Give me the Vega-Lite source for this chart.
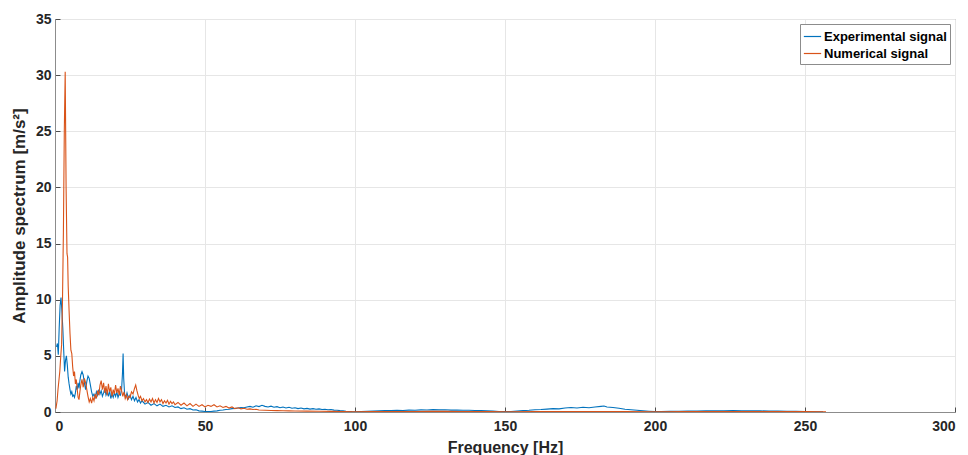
{
  "$schema": "https://vega.github.io/schema/vega-lite/v6.json",
  "autosize": {"type": "none"},
  "width": 900,
  "height": 393,
  "padding": {"left": 55, "top": 19, "right": 13, "bottom": 43},
  "background": "white",
  "config": {
    "font": "Liberation Sans",
    "view": {"stroke": "#8c8c8c", "strokeWidth": 1},
    "axis": {
      "labelFont": "Liberation Sans", "labelFontWeight": "bold", "labelFontSize": 14, "labelColor": "#262626",
      "titleFont": "Liberation Sans", "titleFontWeight": "bold", "titleFontSize": 16, "titleColor": "#262626",
      "gridColor": "#e6e6e6", "gridWidth": 1, "domainColor": "#8c8c8c", "tickColor": "#4d4d4d",
      "tickSize": -5
    }
  },
  "data": {"values": [
    {"f":0.5,"a":5.8,"s":"E"},{"f":0.8,"a":6.1,"s":"E"},{"f":1.1,"a":5.1,"s":"E"},{"f":1.4,"a":7.5,"s":"E"},{"f":1.7,"a":9.5,"s":"E"},{"f":2.0,"a":10.2,"s":"E"},{"f":2.3,"a":9.0,"s":"E"},{"f":2.6,"a":7.5,"s":"E"},{"f":2.9,"a":5.5,"s":"E"},{"f":3.2,"a":3.6,"s":"E"},{"f":3.5,"a":4.6,"s":"E"},{"f":3.8,"a":5.0,"s":"E"},{"f":4.1,"a":4.2,"s":"E"},{"f":4.4,"a":3.1,"s":"E"},{"f":4.7,"a":2.5,"s":"E"},{"f":5.0,"a":2.0,"s":"E"},{"f":5.3,"a":1.6,"s":"E"},{"f":5.6,"a":1.8,"s":"E"},{"f":5.9,"a":1.4,"s":"E"},{"f":6.2,"a":1.5,"s":"E"},{"f":6.5,"a":1.3,"s":"E"},{"f":6.8,"a":1.7,"s":"E"},{"f":7.1,"a":2.3,"s":"E"},{"f":7.4,"a":2.0,"s":"E"},{"f":7.7,"a":2.6,"s":"E"},{"f":8.0,"a":2.1,"s":"E"},{"f":8.3,"a":2.8,"s":"E"},{"f":8.6,"a":3.3,"s":"E"},{"f":9.0,"a":3.6,"s":"E"},{"f":9.4,"a":3.3,"s":"E"},{"f":9.8,"a":2.6,"s":"E"},{"f":10.2,"a":2.0,"s":"E"},{"f":10.6,"a":2.7,"s":"E"},{"f":11.0,"a":3.2,"s":"E"},{"f":11.4,"a":3.0,"s":"E"},{"f":11.8,"a":2.4,"s":"E"},{"f":12.2,"a":1.8,"s":"E"},{"f":12.6,"a":1.4,"s":"E"},{"f":13.0,"a":1.6,"s":"E"},{"f":13.4,"a":1.3,"s":"E"},{"f":13.8,"a":1.8,"s":"E"},{"f":14.2,"a":1.5,"s":"E"},{"f":14.6,"a":2.0,"s":"E"},{"f":15.0,"a":1.6,"s":"E"},{"f":15.4,"a":1.9,"s":"E"},{"f":15.8,"a":1.4,"s":"E"},{"f":16.2,"a":1.7,"s":"E"},{"f":16.6,"a":2.1,"s":"E"},{"f":17.0,"a":1.5,"s":"E"},{"f":17.4,"a":1.8,"s":"E"},{"f":17.8,"a":1.4,"s":"E"},{"f":18.2,"a":1.9,"s":"E"},{"f":18.6,"a":1.2,"s":"E"},{"f":19.0,"a":1.6,"s":"E"},{"f":19.4,"a":1.3,"s":"E"},{"f":19.8,"a":1.7,"s":"E"},{"f":20.2,"a":1.4,"s":"E"},{"f":20.6,"a":1.8,"s":"E"},{"f":21.0,"a":1.3,"s":"E"},{"f":21.4,"a":1.6,"s":"E"},{"f":21.8,"a":1.5,"s":"E"},{"f":22.2,"a":2.0,"s":"E"},{"f":22.5,"a":3.5,"s":"E"},{"f":22.7,"a":5.2,"s":"E"},{"f":22.9,"a":3.0,"s":"E"},{"f":23.2,"a":1.6,"s":"E"},{"f":23.6,"a":1.3,"s":"E"},{"f":24.0,"a":1.7,"s":"E"},{"f":24.5,"a":1.2,"s":"E"},{"f":25.0,"a":1.5,"s":"E"},{"f":25.5,"a":1.1,"s":"E"},{"f":26.0,"a":1.4,"s":"E"},{"f":26.5,"a":1.0,"s":"E"},{"f":27.0,"a":1.3,"s":"E"},{"f":27.5,"a":0.9,"s":"E"},{"f":28.0,"a":1.1,"s":"E"},{"f":28.5,"a":0.8,"s":"E"},{"f":29.0,"a":1.0,"s":"E"},{"f":30,"a":0.7,"s":"E"},{"f":31,"a":0.85,"s":"E"},{"f":32,"a":0.6,"s":"E"},{"f":33,"a":0.75,"s":"E"},{"f":34,"a":0.55,"s":"E"},{"f":35,"a":0.7,"s":"E"},{"f":36,"a":0.5,"s":"E"},{"f":37,"a":0.6,"s":"E"},{"f":38,"a":0.45,"s":"E"},{"f":39,"a":0.55,"s":"E"},{"f":40,"a":0.4,"s":"E"},{"f":41,"a":0.45,"s":"E"},{"f":42,"a":0.3,"s":"E"},{"f":43,"a":0.38,"s":"E"},{"f":44,"a":0.25,"s":"E"},{"f":45,"a":0.3,"s":"E"},{"f":46,"a":0.18,"s":"E"},{"f":47,"a":0.2,"s":"E"},{"f":48,"a":0.1,"s":"E"},{"f":49,"a":0.08,"s":"E"},{"f":50,"a":0.05,"s":"E"},{"f":51,"a":0.03,"s":"E"},{"f":52,"a":0.05,"s":"E"},{"f":53,"a":0.08,"s":"E"},{"f":54,"a":0.1,"s":"E"},{"f":55,"a":0.15,"s":"E"},{"f":56,"a":0.18,"s":"E"},{"f":57,"a":0.22,"s":"E"},{"f":58,"a":0.25,"s":"E"},{"f":59,"a":0.3,"s":"E"},{"f":60,"a":0.32,"s":"E"},{"f":61,"a":0.35,"s":"E"},{"f":62,"a":0.4,"s":"E"},{"f":63,"a":0.38,"s":"E"},{"f":64,"a":0.45,"s":"E"},{"f":65,"a":0.5,"s":"E"},{"f":66,"a":0.42,"s":"E"},{"f":67,"a":0.55,"s":"E"},{"f":68,"a":0.48,"s":"E"},{"f":69,"a":0.6,"s":"E"},{"f":70,"a":0.5,"s":"E"},{"f":71,"a":0.45,"s":"E"},{"f":72,"a":0.52,"s":"E"},{"f":73,"a":0.42,"s":"E"},{"f":74,"a":0.48,"s":"E"},{"f":75,"a":0.38,"s":"E"},{"f":76,"a":0.44,"s":"E"},{"f":77,"a":0.36,"s":"E"},{"f":78,"a":0.42,"s":"E"},{"f":79,"a":0.33,"s":"E"},{"f":80,"a":0.38,"s":"E"},{"f":81,"a":0.3,"s":"E"},{"f":82,"a":0.35,"s":"E"},{"f":83,"a":0.28,"s":"E"},{"f":84,"a":0.32,"s":"E"},{"f":85,"a":0.26,"s":"E"},{"f":86,"a":0.3,"s":"E"},{"f":87,"a":0.24,"s":"E"},{"f":88,"a":0.28,"s":"E"},{"f":89,"a":0.22,"s":"E"},{"f":90,"a":0.25,"s":"E"},{"f":91,"a":0.2,"s":"E"},{"f":92,"a":0.22,"s":"E"},{"f":93,"a":0.17,"s":"E"},{"f":94,"a":0.15,"s":"E"},{"f":95,"a":0.12,"s":"E"},{"f":96,"a":0.1,"s":"E"},{"f":97,"a":0.07,"s":"E"},{"f":98,"a":0.05,"s":"E"},{"f":99,"a":0.03,"s":"E"},{"f":100,"a":0.02,"s":"E"},
    {"f":102,"a":0.04,"s":"E"},{"f":104,"a":0.07,"s":"E"},{"f":106,"a":0.09,"s":"E"},{"f":108,"a":0.1,"s":"E"},{"f":110,"a":0.12,"s":"E"},{"f":112,"a":0.13,"s":"E"},{"f":114,"a":0.15,"s":"E"},{"f":116,"a":0.14,"s":"E"},{"f":118,"a":0.17,"s":"E"},{"f":120,"a":0.16,"s":"E"},{"f":122,"a":0.19,"s":"E"},{"f":124,"a":0.18,"s":"E"},{"f":126,"a":0.21,"s":"E"},{"f":128,"a":0.19,"s":"E"},{"f":130,"a":0.2,"s":"E"},{"f":132,"a":0.17,"s":"E"},{"f":134,"a":0.18,"s":"E"},{"f":136,"a":0.15,"s":"E"},{"f":138,"a":0.16,"s":"E"},{"f":140,"a":0.13,"s":"E"},{"f":142,"a":0.12,"s":"E"},{"f":144,"a":0.1,"s":"E"},{"f":146,"a":0.08,"s":"E"},{"f":148,"a":0.05,"s":"E"},{"f":150,"a":0.03,"s":"E"},
    {"f":152,"a":0.05,"s":"E"},{"f":154,"a":0.08,"s":"E"},{"f":156,"a":0.12,"s":"E"},{"f":158,"a":0.15,"s":"E"},{"f":160,"a":0.2,"s":"E"},{"f":162,"a":0.22,"s":"E"},{"f":164,"a":0.26,"s":"E"},{"f":166,"a":0.3,"s":"E"},{"f":168,"a":0.28,"s":"E"},{"f":170,"a":0.35,"s":"E"},{"f":172,"a":0.4,"s":"E"},{"f":174,"a":0.36,"s":"E"},{"f":176,"a":0.42,"s":"E"},{"f":178,"a":0.38,"s":"E"},{"f":180,"a":0.45,"s":"E"},{"f":182,"a":0.5,"s":"E"},{"f":183,"a":0.53,"s":"E"},{"f":184,"a":0.45,"s":"E"},{"f":186,"a":0.4,"s":"E"},{"f":188,"a":0.33,"s":"E"},{"f":190,"a":0.25,"s":"E"},{"f":192,"a":0.2,"s":"E"},{"f":194,"a":0.15,"s":"E"},{"f":196,"a":0.1,"s":"E"},{"f":198,"a":0.06,"s":"E"},{"f":200,"a":0.03,"s":"E"},
    {"f":202,"a":0.04,"s":"E"},{"f":205,"a":0.06,"s":"E"},{"f":208,"a":0.07,"s":"E"},{"f":211,"a":0.08,"s":"E"},{"f":214,"a":0.09,"s":"E"},{"f":217,"a":0.1,"s":"E"},{"f":220,"a":0.11,"s":"E"},{"f":223,"a":0.1,"s":"E"},{"f":226,"a":0.12,"s":"E"},{"f":229,"a":0.11,"s":"E"},{"f":232,"a":0.1,"s":"E"},{"f":235,"a":0.1,"s":"E"},{"f":238,"a":0.09,"s":"E"},{"f":241,"a":0.08,"s":"E"},{"f":244,"a":0.07,"s":"E"},{"f":247,"a":0.06,"s":"E"},{"f":250,"a":0.04,"s":"E"},{"f":253,"a":0.02,"s":"E"},{"f":256,"a":0.01,"s":"E"},
    {"f":0.3,"a":0.3,"s":"N"},{"f":0.7,"a":1.0,"s":"N"},{"f":1.0,"a":2.0,"s":"N"},{"f":1.3,"a":2.8,"s":"N"},{"f":1.6,"a":3.6,"s":"N"},{"f":1.9,"a":4.9,"s":"N"},{"f":2.2,"a":6.0,"s":"N"},{"f":2.5,"a":10.0,"s":"N"},{"f":2.8,"a":16.0,"s":"N"},{"f":3.1,"a":25.0,"s":"N"},{"f":3.4,"a":30.3,"s":"N"},{"f":3.7,"a":20.0,"s":"N"},{"f":4.0,"a":14.1,"s":"N"},{"f":4.2,"a":13.8,"s":"N"},{"f":4.4,"a":11.2,"s":"N"},{"f":4.7,"a":9.0,"s":"N"},{"f":5.0,"a":7.0,"s":"N"},{"f":5.3,"a":5.5,"s":"N"},{"f":5.6,"a":5.2,"s":"N"},{"f":5.9,"a":4.0,"s":"N"},{"f":6.2,"a":3.2,"s":"N"},{"f":6.5,"a":3.6,"s":"N"},{"f":6.8,"a":2.5,"s":"N"},{"f":7.1,"a":2.9,"s":"N"},{"f":7.4,"a":2.0,"s":"N"},{"f":7.7,"a":1.3,"s":"N"},{"f":8.0,"a":1.1,"s":"N"},{"f":8.3,"a":1.8,"s":"N"},{"f":8.6,"a":2.4,"s":"N"},{"f":9.0,"a":2.9,"s":"N"},{"f":9.4,"a":2.2,"s":"N"},{"f":9.8,"a":3.0,"s":"N"},{"f":10.2,"a":2.6,"s":"N"},{"f":10.6,"a":2.0,"s":"N"},{"f":11.0,"a":1.4,"s":"N"},{"f":11.4,"a":0.9,"s":"N"},{"f":11.8,"a":1.2,"s":"N"},{"f":12.2,"a":0.8,"s":"N"},{"f":12.6,"a":1.3,"s":"N"},{"f":13.0,"a":1.0,"s":"N"},{"f":13.4,"a":1.6,"s":"N"},{"f":13.8,"a":1.2,"s":"N"},{"f":14.2,"a":1.9,"s":"N"},{"f":14.6,"a":1.5,"s":"N"},{"f":15.0,"a":2.4,"s":"N"},{"f":15.4,"a":2.8,"s":"N"},{"f":15.8,"a":2.0,"s":"N"},{"f":16.2,"a":2.6,"s":"N"},{"f":16.6,"a":1.7,"s":"N"},{"f":17.0,"a":2.3,"s":"N"},{"f":17.4,"a":1.5,"s":"N"},{"f":17.8,"a":2.5,"s":"N"},{"f":18.2,"a":1.8,"s":"N"},{"f":18.6,"a":2.2,"s":"N"},{"f":19.0,"a":1.4,"s":"N"},{"f":19.4,"a":2.0,"s":"N"},{"f":19.8,"a":1.6,"s":"N"},{"f":20.2,"a":2.4,"s":"N"},{"f":20.6,"a":1.7,"s":"N"},{"f":21.0,"a":2.1,"s":"N"},{"f":21.4,"a":1.5,"s":"N"},{"f":21.8,"a":2.3,"s":"N"},{"f":22.2,"a":1.9,"s":"N"},{"f":22.6,"a":1.4,"s":"N"},{"f":23.0,"a":1.8,"s":"N"},{"f":23.4,"a":1.2,"s":"N"},{"f":23.8,"a":1.5,"s":"N"},{"f":24.2,"a":1.1,"s":"N"},{"f":24.6,"a":1.4,"s":"N"},{"f":25.0,"a":1.3,"s":"N"},{"f":25.5,"a":1.8,"s":"N"},{"f":26.0,"a":1.6,"s":"N"},{"f":26.5,"a":2.1,"s":"N"},{"f":26.9,"a":2.4,"s":"N"},{"f":27.3,"a":1.9,"s":"N"},{"f":27.7,"a":1.5,"s":"N"},{"f":28.1,"a":1.2,"s":"N"},{"f":28.5,"a":1.4,"s":"N"},{"f":29,"a":1.0,"s":"N"},{"f":29.5,"a":1.2,"s":"N"},{"f":30,"a":0.9,"s":"N"},{"f":30.5,"a":1.1,"s":"N"},{"f":31,"a":0.85,"s":"N"},{"f":31.5,"a":1.15,"s":"N"},{"f":32,"a":0.9,"s":"N"},{"f":32.5,"a":1.2,"s":"N"},{"f":33,"a":0.8,"s":"N"},{"f":33.5,"a":1.1,"s":"N"},{"f":34,"a":0.85,"s":"N"},{"f":34.5,"a":1.2,"s":"N"},{"f":35,"a":0.9,"s":"N"},{"f":35.5,"a":1.1,"s":"N"},{"f":36,"a":0.75,"s":"N"},{"f":36.5,"a":1.0,"s":"N"},{"f":37,"a":0.8,"s":"N"},{"f":37.5,"a":1.05,"s":"N"},{"f":38,"a":0.7,"s":"N"},{"f":38.5,"a":0.95,"s":"N"},{"f":39,"a":0.75,"s":"N"},{"f":39.5,"a":0.9,"s":"N"},{"f":40,"a":0.65,"s":"N"},{"f":41,"a":0.85,"s":"N"},{"f":42,"a":0.6,"s":"N"},{"f":43,"a":0.8,"s":"N"},{"f":44,"a":0.55,"s":"N"},{"f":45,"a":0.75,"s":"N"},{"f":46,"a":0.5,"s":"N"},{"f":47,"a":0.7,"s":"N"},{"f":48,"a":0.5,"s":"N"},{"f":49,"a":0.65,"s":"N"},{"f":50,"a":0.45,"s":"N"},{"f":51,"a":0.6,"s":"N"},{"f":52,"a":0.5,"s":"N"},{"f":53,"a":0.65,"s":"N"},{"f":54,"a":0.45,"s":"N"},{"f":55,"a":0.55,"s":"N"},{"f":56,"a":0.4,"s":"N"},{"f":57,"a":0.5,"s":"N"},{"f":58,"a":0.35,"s":"N"},{"f":59,"a":0.45,"s":"N"},{"f":60,"a":0.3,"s":"N"},{"f":61,"a":0.38,"s":"N"},{"f":62,"a":0.28,"s":"N"},{"f":63,"a":0.33,"s":"N"},{"f":64,"a":0.25,"s":"N"},{"f":65,"a":0.28,"s":"N"},{"f":66,"a":0.22,"s":"N"},{"f":67,"a":0.24,"s":"N"},{"f":68,"a":0.18,"s":"N"},{"f":70,"a":0.16,"s":"N"},{"f":72,"a":0.14,"s":"N"},{"f":74,"a":0.12,"s":"N"},{"f":76,"a":0.11,"s":"N"},{"f":78,"a":0.1,"s":"N"},{"f":80,"a":0.09,"s":"N"},{"f":84,"a":0.08,"s":"N"},{"f":88,"a":0.07,"s":"N"},{"f":92,"a":0.06,"s":"N"},{"f":96,"a":0.04,"s":"N"},{"f":100,"a":0.02,"s":"N"},{"f":105,"a":0.03,"s":"N"},{"f":110,"a":0.04,"s":"N"},{"f":115,"a":0.05,"s":"N"},{"f":120,"a":0.05,"s":"N"},{"f":125,"a":0.06,"s":"N"},{"f":130,"a":0.06,"s":"N"},{"f":135,"a":0.05,"s":"N"},{"f":140,"a":0.05,"s":"N"},{"f":145,"a":0.04,"s":"N"},{"f":150,"a":0.02,"s":"N"},{"f":160,"a":0.03,"s":"N"},{"f":170,"a":0.03,"s":"N"},{"f":180,"a":0.03,"s":"N"},{"f":190,"a":0.03,"s":"N"},{"f":200,"a":0.02,"s":"N"},{"f":210,"a":0.03,"s":"N"},{"f":220,"a":0.04,"s":"N"},{"f":230,"a":0.05,"s":"N"},{"f":240,"a":0.05,"s":"N"},{"f":250,"a":0.04,"s":"N"},{"f":257,"a":0.02,"s":"N"}
  ]},
  "mark": {"type": "line", "strokeWidth": 1.1, "clip": true},
  "encoding": {
    "x": {"field": "f", "type": "quantitative", "scale": {"domain": [0, 300], "nice": false},
      "axis": {"values": [0, 50, 100, 150, 200, 250, 300], "title": "Frequency [Hz]", "titlePadding": 6, "labelPadding": 12}},
    "y": {"field": "a", "type": "quantitative", "scale": {"domain": [0, 35], "nice": false},
      "axis": {"values": [0, 5, 10, 15, 20, 25, 30, 35], "title": "Amplitude spectrum [m/s²]", "titleFontSize": 17, "titlePadding": 7, "labelPadding": 9}},
    "color": {"field": "s", "type": "nominal",
      "scale": {"domain": ["E", "N"], "range": ["#0072BD", "#D95319"]},
      "legend": {
        "title": null, "orient": "top-right", "offset": 5,
        "labelExpr": "datum.value == 'E' ? 'Experimental signal' : 'Numerical signal'",
        "labelFont": "Liberation Sans", "labelFontWeight": "bold", "labelFontSize": 13, "labelColor": "#000000",
        "symbolType": "stroke", "symbolSize": 300, "symbolStrokeWidth": 1.2,
        "strokeColor": "#8c8c8c", "fillColor": "white", "padding": 3, "rowPadding": 0, "labelOffset": 2
      }
    }
  }
}
